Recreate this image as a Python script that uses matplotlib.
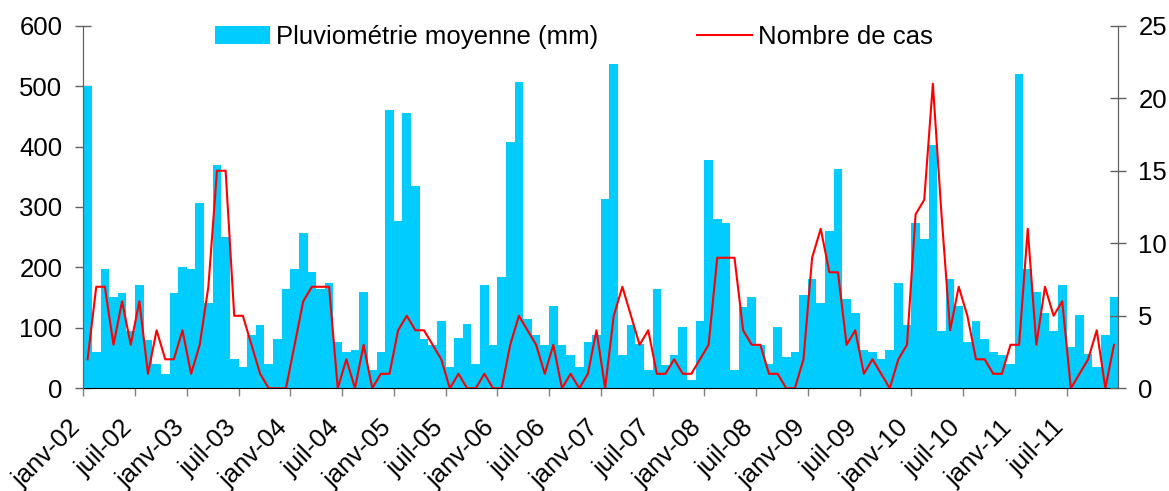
import matplotlib
matplotlib.use("Agg")
import matplotlib.pyplot as plt
import matplotlib.transforms as mtransforms
import numpy as np

plt.rcParams['font.family'] = ['Liberation Sans', 'DejaVu Sans']

# Monthly data, janv-2002 .. déc-2011
rain_mm = [
    500, 60, 197, 151, 157, 94, 171, 80, 41, 24, 157, 200,      # 2002
    198, 307, 141, 370, 250, 48, 35, 88, 105, 41, 81, 164,      # 2003
    197, 257, 193, 164, 174, 77, 60, 64, 160, 31, 60, 460,      # 2004
    277, 456, 334, 81, 71, 111, 35, 84, 107, 41, 171, 71,       # 2005
    184, 407, 507, 114, 88, 71, 137, 71, 55, 35, 77, 88,        # 2006
    314, 537, 55, 104, 74, 31, 164, 38, 55, 101, 14, 111,       # 2007
    377, 280, 274, 31, 134, 151, 71, 41, 101, 51, 60, 154,      # 2008
    181, 141, 260, 363, 147, 124, 64, 60, 48, 64, 174, 104,     # 2009
    274, 247, 403, 94, 181, 137, 77, 111, 81, 60, 55, 41,       # 2010
    520, 197, 160, 124, 94, 171, 68, 121, 57, 35, 88, 151,      # 2011
]
cases = [
    2, 7, 7, 3, 6, 3, 6, 1, 4, 2, 2, 4,
    1, 3, 7, 15, 15, 5, 5, 3, 1, 0, 0, 0,
    3, 6, 7, 7, 7, 0, 2, 0, 3, 0, 1, 1,
    4, 5, 4, 4, 3, 2, 0, 1, 0, 0, 1, 0,
    0, 3, 5, 4, 3, 1, 3, 0, 1, 0, 1, 4,
    0, 5, 7, 5, 3, 4, 1, 1, 2, 1, 1, 2,
    3, 9, 9, 9, 4, 3, 3, 1, 1, 0, 0, 2,
    9, 11, 8, 8, 3, 4, 1, 2, 1, 0, 2, 3,
    12, 13, 21, 12, 4, 7, 5, 2, 2, 1, 1, 3,
    3, 11, 3, 7, 5, 6, 0, 1, 2, 4, 0, 3,
]
tick_labels = ['janv-02', 'juil-02', 'janv-03', 'juil-03', 'janv-04', 'juil-04',
               'janv-05', 'juil-05', 'janv-06', 'juil-06', 'janv-07', 'juil-07',
               'janv-08', 'juil-08', 'janv-09', 'juil-09', 'janv-10', 'juil-10',
               'janv-11', 'juil-11']
legend_labels = ['Pluviométrie moyenne (mm)', 'Nombre de cas']

FS = 18.5
W, H = 1169, 491
fig = plt.figure(figsize=(W / 100, H / 100), dpi=100)
left, right = 83.3 / W, 1118.3 / W
bottom, top = 1 - 388.3 / H, 1 - 25.7 / H
ax = fig.add_axes([left, bottom, right - left, top - bottom])
ax2 = ax.twinx()

n = len(rain_mm)
x = np.arange(n)
bars = ax.bar(x + 0.5, rain_mm, width=1.0, color='#00CCFF', linewidth=0,
              antialiased=False, zorder=2)
line, = ax2.plot(x + 0.5, cases, color='#FF0000', linewidth=1.5, zorder=3)

ax.set_xlim(0, n)
ax.set_ylim(0, 600)
ax2.set_ylim(0, 25)
ax.set_yticks(np.arange(0, 601, 100))
ax2.set_yticks(np.arange(0, 26, 5))

ax.set_xticks(np.arange(0, 6 * len(tick_labels), 6))
ax.set_xticklabels(tick_labels, rotation=45, ha='right', va='center',
                   rotation_mode='anchor')
ax.tick_params(axis='x', direction='out', length=6, width=1, color='#808080',
               pad=19.5, labelsize=FS)
offset = mtransforms.ScaledTranslation(-6 / 100, 0, fig.dpi_scale_trans)
for lbl in ax.get_xticklabels():
    lbl.set_transform(lbl.get_transform() + offset)

ax.tick_params(axis='y', direction='inout', length=12, width=1, color='#606060',
               pad=9, labelsize=FS)
ax2.tick_params(axis='y', direction='inout', length=12, width=1, color='#606060',
                pad=8.4, labelsize=FS)

for a in (ax, ax2):
    a.spines['top'].set_visible(False)
    a.spines['left'].set_color('#606060')
    a.spines['right'].set_color('#606060')
    a.spines['bottom'].set_color('black')
    a.patch.set_visible(False)
ax2.spines['bottom'].set_visible(False)

leg = fig.legend([bars, line], legend_labels, loc='center left',
                 bbox_to_anchor=(215 / W, 1 - 37 / H), bbox_transform=fig.transFigure,
                 ncol=2, frameon=False, fontsize=FS, borderpad=0, borderaxespad=0,
                 handlelength=2.14, handleheight=0.66, handletextpad=0.23,
                 columnspacing=3.85)

fig.savefig('out.png', dpi=100)
